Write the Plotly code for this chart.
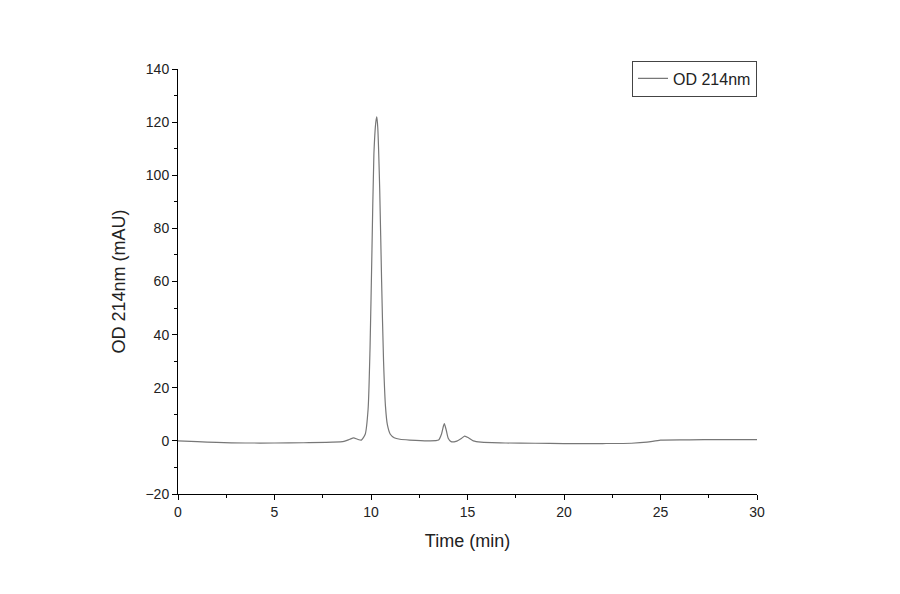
import plotly.graph_objects as go

# chromatogram trace
time_min = [0, 1, 2, 3.5, 5, 6.5, 8, 8.6, 8.9, 9.1, 9.3, 9.5, 9.7, 9.85, 9.95, 10.05, 10.15, 10.25, 10.3,
            10.35, 10.45, 10.55, 10.65, 10.75, 10.85, 11.0, 11.2, 11.5, 12, 13, 13.5, 13.65, 13.75, 13.8,
            13.9, 14.0, 14.15, 14.4, 14.7, 14.85, 15.05, 15.3, 15.7, 17, 18.5, 20, 22, 23.5, 24.3, 25,
            26.5, 28, 30]
od_214 = [0, -0.3, -0.6, -0.8, -0.8, -0.7, -0.5, -0.2, 0.6, 1.1, 0.6, 0.3, 2.5, 12, 35, 72, 108, 120, 122,
          118, 95, 60, 30, 13, 6, 2.5, 1.2, 0.6, 0.3, 0, 0.3, 2.5, 5.5, 6.5, 4, 1, -0.3, -0.2, 1.0, 1.8,
          1.2, 0, -0.5, -0.8, -0.9, -1.0, -1.0, -0.9, -0.5, 0.3, 0.4, 0.5, 0.5]

fig = go.Figure(go.Scatter(x=time_min, y=od_214, mode="lines", name="OD 214nm",
                           line=dict(color="#777777", width=1.2, shape="spline", smoothing=0.6)))

axis_common = dict(showline=True, linecolor="black", linewidth=1, ticks="outside", ticklen=5,
                   tickcolor="black", showgrid=False, zeroline=False, mirror=False,
                   tickfont=dict(size=14, color="#222"),
                   minor=dict(ticks="outside", ticklen=3, tickcolor="black"))

fig.update_layout(
    width=900, height=594, plot_bgcolor="white", paper_bgcolor="white",
    font=dict(family="Liberation Sans, Arial", color="#222"),
    margin=dict(l=170, r=151, t=61, b=108),
    showlegend=True,
    legend=dict(x=1, y=1.02, xanchor="right", yanchor="top", bordercolor="#444", borderwidth=1,
                font=dict(size=16)),
    xaxis=dict(range=[0, 30], dtick=5, title=dict(text="Time (min)", font=dict(size=18)),
               **axis_common),
    yaxis=dict(range=[-20, 140], dtick=20, title=dict(text="OD 214nm (mAU)", font=dict(size=18)),
               **axis_common),
)
fig.update_xaxes(minor=dict(dtick=2.5))
fig.update_yaxes(minor=dict(dtick=10))

fig.write_html("out.html")
